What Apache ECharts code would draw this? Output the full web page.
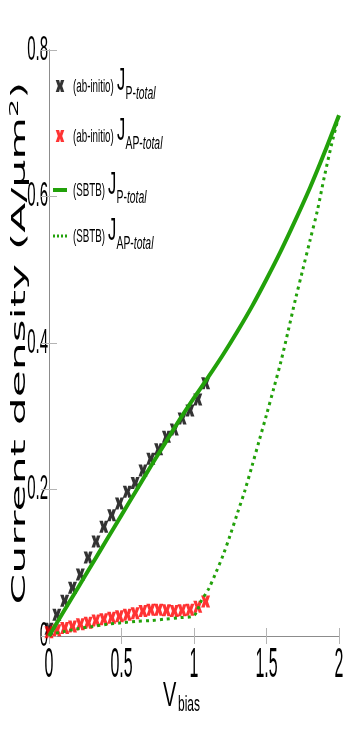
<!DOCTYPE html>
<html>
<head>
<meta charset="utf-8">
<script src="https://cdn.jsdelivr.net/npm/echarts@6/dist/echarts.min.js"></script>
<style>
  html, body { margin: 0; padding: 0; background: #fff; }
  #chart { width: 349px; height: 747px; }
</style>
</head>
<body>
<div id="chart"></div>
<script>
  // ab-initio points
  var vAb = [0, 0.054, 0.108, 0.162, 0.216, 0.27, 0.324, 0.378, 0.432, 0.486, 0.54,
    0.594, 0.648, 0.702, 0.756, 0.81, 0.864, 0.918, 0.972, 1.026, 1.08];
  var jPAb = [0.010, 0.029, 0.048, 0.066, 0.084, 0.107, 0.129, 0.149, 0.165, 0.181, 0.197,
    0.209, 0.226, 0.242, 0.255, 0.272, 0.282, 0.297, 0.308, 0.323, 0.345];
  var jAPAb = [0.005, 0.008, 0.011, 0.013, 0.016, 0.018, 0.021, 0.023, 0.025, 0.027, 0.029,
    0.031, 0.034, 0.036, 0.036, 0.035, 0.034, 0.035, 0.036, 0.040, 0.047];

  // SBTB curves
  var vSbtbP = [0, 0.1, 0.2, 0.3, 0.4, 0.5, 0.6, 0.7, 0.8, 0.9, 1.0,
    1.1, 1.2, 1.3, 1.4, 1.5, 1.6, 1.7, 1.8, 1.9, 2.0];
  var jSbtbP = [0, 0.033, 0.066, 0.099, 0.132, 0.165, 0.198, 0.231, 0.263, 0.295, 0.325,
    0.354, 0.384, 0.416, 0.450, 0.487, 0.526, 0.568, 0.612, 0.660, 0.711];
  var vSbtbAP = [0, 0.1, 0.2, 0.3, 0.4, 0.5, 0.6, 0.7, 0.8, 0.9, 1.0, 1.05, 1.1, 1.15, 1.2,
    1.25, 1.3, 1.35, 1.4, 1.45, 1.5, 1.55, 1.6, 1.65, 1.7, 1.75, 1.8, 1.85, 1.9, 1.95, 2.0];
  var jSbtbAP = [0.002, 0.006, 0.010, 0.013, 0.016, 0.018, 0.020, 0.021, 0.023, 0.025, 0.028,
    0.048, 0.064, 0.086, 0.110, 0.138, 0.168, 0.198, 0.232, 0.267, 0.302, 0.338, 0.375,
    0.417, 0.460, 0.500, 0.540, 0.580, 0.628, 0.672, 0.711];

  // axis ticks
  var xTickVals = [0, 0.5, 1, 1.5, 2];
  var xTickLabels = ['0', '0.5', '1', '1.5', '2'];
  var yTickVals = [0, 0.2, 0.4, 0.6, 0.8];
  var yTickLabels = ['0', '0.2', '0.4', '0.6', '0.8'];

  // legend entries: series name, prefix, subscript
  var names = ['abP', 'abAP', 'sbtbP', 'sbtbAP'];
  var legendPrefix = ['(ab-initio)', '(ab-initio)', '(SBTB)', '(SBTB)'];
  var legendSub = ['P-', 'AP-', 'P-', 'AP-'];

  var font = '"Liberation Sans", Arial, sans-serif';
  var green = '#22a10a';
  var gray = '#8c8c8c';
  var xMark = 'path://M0,0 L4,0 L5,4 L6,0 L10,0 L7.6,7 L10,14 L6,14 L5,10 L4,14 L0,14 L2.4,7 Z';
  var solidIcon = 'path://M0,0 L14,0 L14,4 L0,4 Z';
  var dotIcon = 'path://M0,0h2v3h-2z M4,0h2v3h-2z M8,0h2v3h-2z M12,0h2v3h-2z';

  function pairs(xs, ys) {
    return xs.map(function (x, i) { return [x, ys[i]]; });
  }

  var legendTops = [80, 130, 184, 230];
  var legendIcons = [null, null, solidIcon, dotIcon];
  var legends = names.map(function (n, i) {
    var item = { name: n };
    if (legendIcons[i]) item.icon = legendIcons[i];
    return {
      data: [item],
      left: 53,
      top: legendTops[i],
      padding: 0,
      itemWidth: 14,
      itemHeight: 12,
      selectedMode: false,
      formatter: function () { return ''; }
    };
  });

  var axisCommon = {
    type: 'value',
    axisLine: { show: true, lineStyle: { color: gray, width: 1 } },
    axisTick: { show: true, inside: true, length: 8, lineStyle: { color: '#b4b4b4' } },
    axisLabel: { show: false },
    splitLine: { show: false }
  };

  var chart = echarts.init(document.getElementById('chart'));
  chart.setOption({
    backgroundColor: '#fff',
    animation: false,
    grid: { left: 49, right: 10, top: 50, bottom: 111 },
    legend: legends,
    xAxis: [
      Object.assign({ min: 0, max: 2, interval: 0.5, position: 'bottom' }, axisCommon),
      Object.assign({ min: 0, max: 2, interval: 0.5, position: 'top' }, axisCommon)
    ],
    yAxis: [
      Object.assign({ min: 0, max: 0.8, interval: 0.2, position: 'left' }, axisCommon),
      Object.assign({ min: 0, max: 0.8, interval: 0.2, position: 'right' }, axisCommon)
    ],
    series: [{
      name: 'abP', type: 'scatter',
      symbol: xMark, symbolSize: [9, 12],
      itemStyle: { color: '#000' },
      data: pairs(vAb, jPAb)
    }, {
      name: 'abAP', type: 'scatter',
      symbol: xMark, symbolSize: [9, 12],
      itemStyle: { color: '#ff0000' },
      data: pairs(vAb, jAPAb)
    }, {
      name: 'sbtbP', type: 'line',
      symbol: 'none', smooth: 0.3,
      itemStyle: { color: green },
      lineStyle: { color: green, width: 4 },
      data: pairs(vSbtbP, jSbtbP)
    }, {
      name: 'sbtbAP', type: 'line',
      symbol: 'none', smooth: 0.3,
      itemStyle: { color: green },
      lineStyle: { color: green, width: 3, type: [3, 4] },
      data: pairs(vSbtbAP, jSbtbAP)
    }]
  });

  // stretched texts: tick labels placed through the axis scales, titles, legend labels
  var graphics = [];
  var x0 = chart.convertToPixel({ xAxisIndex: 0 }, 0);
  var y0 = chart.convertToPixel({ yAxisIndex: 0 }, 0);

  yTickVals.forEach(function (v, i) {
    graphics.push({
      type: 'text',
      x: x0 - 1, y: chart.convertToPixel({ yAxisIndex: 0 }, v),
      scaleX: 0.75, scaleY: 1.8,
      style: { text: yTickLabels[i], font: '20px ' + font, fill: '#000', align: 'right', verticalAlign: 'middle' }
    });
  });
  xTickVals.forEach(function (v, i) {
    graphics.push({
      type: 'text',
      x: chart.convertToPixel({ xAxisIndex: 0 }, v), y: y0 + 8,
      scaleX: 0.8, scaleY: 2.15,
      style: { text: xTickLabels[i], font: '20px ' + font, fill: '#000', align: 'center', verticalAlign: 'top' }
    });
  });

  // x axis name V_bias
  graphics.push({
    type: 'group', x: 163, y: 696, scaleY: 1.8,
    children: [
      { type: 'text', x: 0, y: 0, style: { text: 'V', font: '20px ' + font, fill: '#000', verticalAlign: 'middle' } },
      { type: 'text', x: 15, y: 5, style: { text: 'bias', font: '12px ' + font, fill: '#000', verticalAlign: 'middle' } }
    ]
  });

  // y axis name
  graphics.push({
    type: 'text',
    x: 19, y: 343,
    rotation: Math.PI / 2,
    scaleX: 2.2, scaleY: 1,
    style: {
      text: '{t|Current density (A/μm}{u|2}{t|)}',
      align: 'center',
      verticalAlign: 'middle',
      rich: {
        t: { fontFamily: '"DejaVu Sans", sans-serif', fontSize: 20, lineHeight: 22, fill: '#000', verticalAlign: 'bottom' },
        u: { fontFamily: '"DejaVu Sans", sans-serif', fontSize: 13, lineHeight: 22, fill: '#000', verticalAlign: 'top' }
      }
    }
  });

  // legend labels, stretched like the rest of the figure text
  var legendJx = [117, 117, 108, 108];
  names.forEach(function (n, i) {
    var yc = legendTops[i] + 6;
    graphics.push({
      type: 'group', x: 0, y: yc, scaleY: 1.85,
      children: [
        { type: 'text', x: 73, y: 0.5, style: { text: legendPrefix[i], font: '9.8px ' + font, fill: '#000', verticalAlign: 'middle' } },
        { type: 'text', x: legendJx[i], y: -2.2, style: { text: 'J', font: '16.5px ' + font, fill: '#000', verticalAlign: 'middle' } },
        {
          type: 'text', x: legendJx[i] + 8.5, y: 4.2,
          style: {
            text: '{s|' + legendSub[i] + '}{i|total}',
            verticalAlign: 'middle',
            rich: {
              s: { fontFamily: font, fontSize: 10.4, fill: '#000' },
              i: { fontFamily: font, fontSize: 10.4, fontStyle: 'italic', fill: '#000' }
            }
          }
        }
      ]
    });
  });

  chart.setOption({ graphic: graphics });
</script>
</body>
</html>
